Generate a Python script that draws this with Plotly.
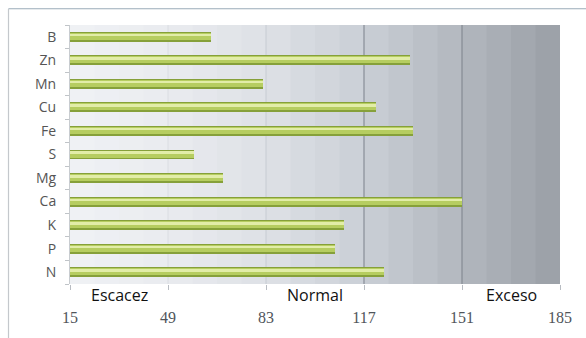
import plotly.graph_objects as go

# ---- data ----
nutrients = ["N", "P", "K", "Ca", "Mg", "S", "Fe", "Cu", "Mn", "Zn", "B"]
values = [124, 107, 110, 151, 68, 58, 134, 121, 82, 133, 64]
tick_vals = [15, 49, 83, 117, 151, 185]
zone_labels = ["Escacez", "Normal", "Exceso"]
zone_centers = [32, 100, 168]

# ---- layout geometry ----
W, H = 586, 338
ML, MR, MT, MB = 70, 26, 25, 50
pw, ph = W - ML - MR, H - MT - MB

def px_to_paper_x(px):
    return (px - ML) / pw

def px_to_paper_y(py):
    return 1 - (py - MT) / ph

fig = go.Figure()

# cylinder-like bars: base + mid + highlight
fig.add_trace(go.Bar(y=nutrients, x=values, orientation="h", width=0.42,
                     marker=dict(color="#86a03a", line=dict(width=0)),
                     hoverinfo="skip", showlegend=False))
fig.add_trace(go.Bar(y=nutrients, x=values, orientation="h", width=0.30, offset=-0.13,
                     marker=dict(color="#b6cd60", line=dict(width=0)),
                     hoverinfo="skip", showlegend=False))
fig.add_trace(go.Bar(y=nutrients, x=values, orientation="h", width=0.11, offset=0.02,
                     marker=dict(color="#e2eda8", line=dict(width=0)),
                     hoverinfo="skip", showlegend=False))

# background gradient bands
stops = [(15, (240, 242, 245)), (49, (233, 235, 239)), (83, (222, 225, 230)),
         (117, (202, 207, 214)), (151, (178, 183, 190)), (185, (154, 159, 166))]

def color_at(v):
    for (a, ca), (b, cb) in zip(stops[:-1], stops[1:]):
        if a <= v <= b:
            t = (v - a) / (b - a)
            return tuple(int(round(ca[i] + (cb[i] - ca[i]) * t)) for i in range(3))
    return stops[-1][1]

shapes = []
step = 8.5
x0 = 15.0
while x0 < 185 - 1e-9:
    x1 = min(x0 + step, 185)
    c = color_at((x0 + x1) / 2)
    shapes.append(dict(type="rect", xref="x", yref="paper", x0=x0, x1=min(x1 + 0.6, 185),
                       y0=0, y1=1,
                       fillcolor="rgb(%d,%d,%d)" % c, line=dict(width=0), layer="below"))
    x0 = x1

# gridlines (drawn over background, below bars)
grid_cols = {49: "rgba(210,214,220,0.5)", 83: "rgba(195,200,207,0.7)",
             117: "rgba(125,131,140,0.85)", 151: "rgba(125,131,140,0.85)"}
for tv, col in grid_cols.items():
    shapes.append(dict(type="line", xref="x", yref="paper", x0=tv, x1=tv, y0=0, y1=1,
                       line=dict(color=col, width=1.2), layer="below"))

# outer frame (top and left edges visible)
fx = px_to_paper_x(8.5)
fy = px_to_paper_y(8.5)
shapes.append(dict(type="line", xref="paper", yref="paper", x0=fx, x1=px_to_paper_x(W + 5),
                   y0=fy, y1=fy, line=dict(color="#9aabb8", width=1.2)))
shapes.append(dict(type="line", xref="paper", yref="paper", x0=fx, x1=fx,
                   y0=fy, y1=px_to_paper_y(H + 5), line=dict(color="#c4c8cc", width=1.2)))

annotations = []
for lab, xc in zip(zone_labels, zone_centers):
    annotations.append(dict(x=xc, y=px_to_paper_y(299), xref="x", yref="paper",
                            text=lab, showarrow=False, yanchor="middle",
                            font=dict(family="Open Sans", size=16, color="#111111")))

fig.update_layout(
    width=W, height=H,
    margin=dict(l=ML, r=MR, t=MT, b=MB),
    paper_bgcolor="white",
    plot_bgcolor="rgba(0,0,0,0)",
    barmode="overlay",
    bargap=0,
    shapes=shapes,
    annotations=annotations,
    xaxis=dict(range=[15, 185], tickvals=tick_vals, ticktext=[str(v) for v in tick_vals],
               showgrid=False, zeroline=False, ticks="outside", ticklen=5,
               tickcolor="#b8bcc2", showline=False, ticklabelstandoff=14,
               tickfont=dict(family="Liberation Serif", size=16, color="#50555b")),
    yaxis=dict(categoryorder="array", categoryarray=nutrients,
               showgrid=False, zeroline=False, ticks="outside", ticklen=4,
               tickson="boundaries", tickcolor="#c0c4c8", showline=True,
               linecolor="#c8ccd0", linewidth=1, ticklabelstandoff=10,
               tickfont=dict(family="Open Sans", size=14, color="#555555")),
)

fig.write_html("out.html")
